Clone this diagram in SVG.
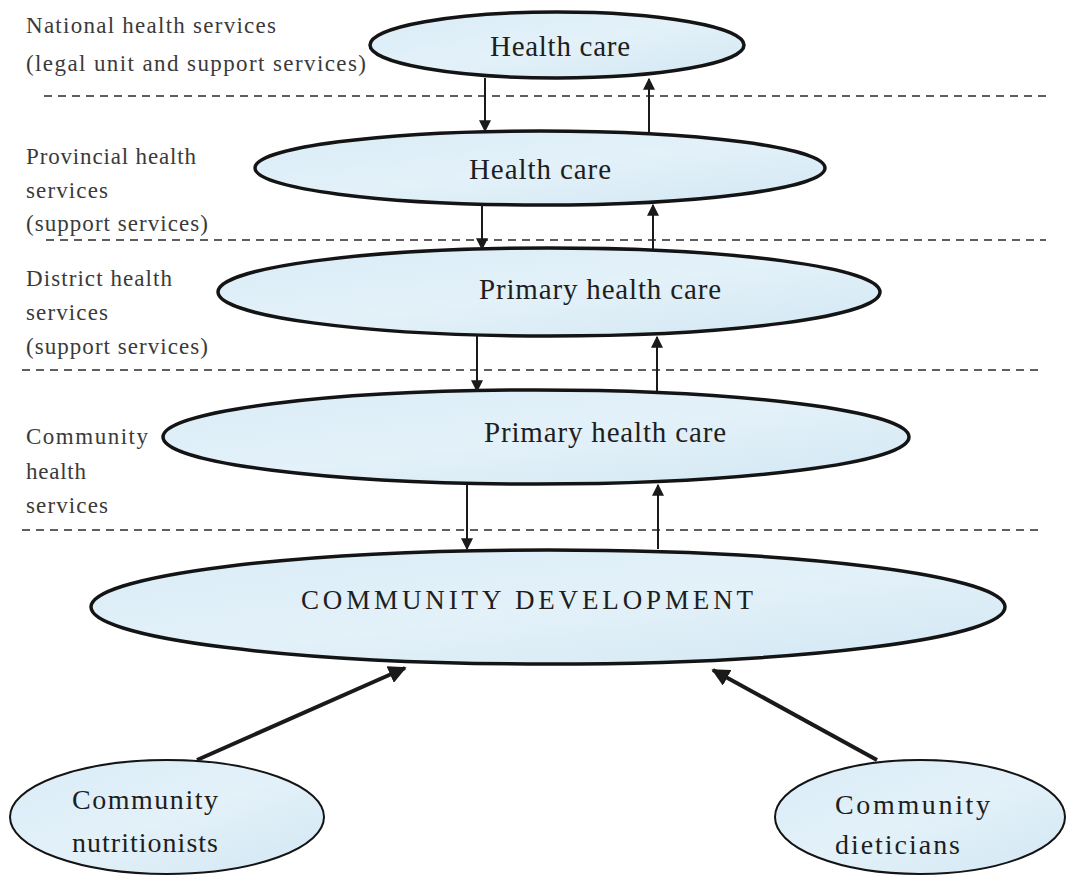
<svg xmlns="http://www.w3.org/2000/svg" width="1077" height="877" viewBox="0 0 1077 877">
  <defs>
    <linearGradient id="fillBlue" x1="0" y1="0" x2="1" y2="1">
      <stop offset="0" stop-color="#d9ecf7"/>
      <stop offset="0.5" stop-color="#e3f1f9"/>
      <stop offset="1" stop-color="#d2e7f3"/>
    </linearGradient>
    <marker id="headThin" viewBox="0 0 10 10" refX="9" refY="5" markerWidth="6" markerHeight="6" orient="auto" markerUnits="strokeWidth">
      <path d="M0,0 L10,5 L0,10 Z" fill="#1a1a1a"/>
    </marker>
    <marker id="headThick" viewBox="0 0 10 10" refX="9" refY="5" markerWidth="4.5" markerHeight="4.5" orient="auto" markerUnits="strokeWidth">
      <path d="M0,0 L10,5 L0,10 Z" fill="#1a1a1a"/>
    </marker>
  </defs>
  <style>
    .node { fill: url(#fillBlue); stroke: #141414; stroke-width: 3.5; }
    .small { stroke-width: 2; }
    .label { font-family: "Liberation Serif", "Times New Roman", serif; fill: #1e1e1e; }
    .side { font-family: "Liberation Serif", "Times New Roman", serif; font-size: 23px; fill: #3a3a3a; }
    .divider { stroke: #2a2a2a; stroke-width: 1.6; stroke-dasharray: 8 6; fill: none; }
    .flow { stroke: #1a1a1a; stroke-width: 2; fill: none; marker-end: url(#headThin); }
    .feed { stroke: #1a1a1a; stroke-width: 4; fill: none; marker-end: url(#headThick); }
  </style>

  <rect width="1077" height="877" fill="#ffffff"/>

  <!-- level dividers -->
  <g id="dividers">
    <line class="divider" x1="44" y1="96" x2="1050" y2="96"/>
    <line class="divider" x1="46" y1="240" x2="1046" y2="240"/>
    <line class="divider" x1="22" y1="370" x2="1040" y2="370"/>
    <line class="divider" x1="22" y1="530" x2="1040" y2="530"/>
  </g>

  <!-- level captions -->
  <g id="captions">
    <text class="side" x="26" y="33" textLength="250">National health services</text>
    <text class="side" x="26" y="71" textLength="340">(legal unit and support services)</text>
    <text class="side" x="26" y="164" textLength="170">Provincial health</text>
    <text class="side" x="26" y="198" textLength="82">services</text>
    <text class="side" x="26" y="231" textLength="182">(support services)</text>
    <text class="side" x="26" y="286" textLength="146">District health</text>
    <text class="side" x="26" y="320" textLength="82">services</text>
    <text class="side" x="26" y="354" textLength="182">(support services)</text>
    <text class="side" x="26" y="444" textLength="122">Community</text>
    <text class="side" x="26" y="479" textLength="60">health</text>
    <text class="side" x="26" y="513" textLength="82">services</text>
  </g>

  <g id="national">
    <ellipse class="node" cx="557" cy="45" rx="187" ry="33"/>
    <text class="label" x="560" y="56" font-size="29" text-anchor="middle" textLength="140">Health care</text>
  </g>

  <g id="provincial">
    <ellipse class="node" cx="540" cy="168" rx="285" ry="37"/>
    <text class="label" x="540" y="179" font-size="29" text-anchor="middle" textLength="142">Health care</text>
  </g>

  <g id="district">
    <ellipse class="node" cx="549" cy="292" rx="331" ry="44"/>
    <text class="label" x="600" y="299" font-size="29" text-anchor="middle" textLength="242">Primary health care</text>
  </g>

  <g id="community-health">
    <ellipse class="node" cx="536" cy="437" rx="373" ry="47"/>
    <text class="label" x="605" y="442" font-size="29" text-anchor="middle" textLength="242">Primary health care</text>
  </g>

  <g id="community-development">
    <ellipse class="node" cx="548" cy="607" rx="457" ry="57"/>
    <text class="label" x="527" y="609" font-size="27" text-anchor="middle" textLength="452">COMMUNITY DEVELOPMENT</text>
  </g>

  <g id="nutritionists">
    <ellipse class="node small" cx="167" cy="817" rx="157" ry="57"/>
    <text class="label" x="72" y="809" font-size="28" textLength="146">Community</text>
    <text class="label" x="72" y="852" font-size="28" textLength="146">nutritionists</text>
  </g>

  <g id="dieticians">
    <ellipse class="node small" cx="920" cy="817" rx="145" ry="57"/>
    <text class="label" x="835" y="814" font-size="28" textLength="155">Community</text>
    <text class="label" x="835" y="854" font-size="28" textLength="125">dieticians</text>
  </g>

  <!-- connectors between levels -->
  <g id="connectors">
    <line class="flow" x1="485" y1="78" x2="485" y2="131"/>
    <line class="flow" x1="649" y1="132" x2="649" y2="79"/>
    <line class="flow" x1="482" y1="205" x2="482" y2="249"/>
    <line class="flow" x1="653" y1="249" x2="653" y2="205"/>
    <line class="flow" x1="477" y1="336" x2="477" y2="391"/>
    <line class="flow" x1="657" y1="391" x2="657" y2="337"/>
    <line class="flow" x1="467" y1="484" x2="467" y2="549"/>
    <line class="flow" x1="658" y1="549" x2="658" y2="485"/>
    <line class="feed" x1="197" y1="760" x2="405" y2="668"/>
    <line class="feed" x1="877" y1="760" x2="713" y2="670"/>
  </g>
</svg>
